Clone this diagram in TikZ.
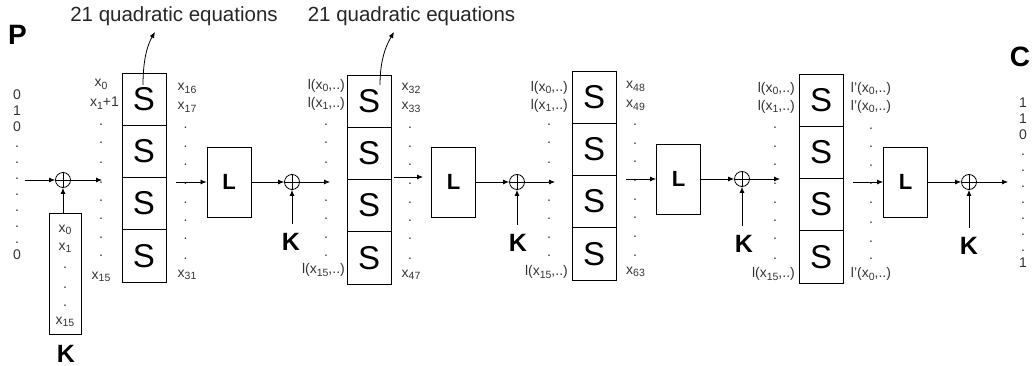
\documentclass[tikz,border=0pt]{standalone}
\usepackage{fontspec}
\setmainfont{Liberation Sans}
\usetikzlibrary{arrows.meta}
\newcommand\xsb[1]{x\raisebox{-2.5pt}{\fontsize{10.5}{10.5}\selectfont #1}}
\newcommand\scolumn[3]{\foreach \j in {0,...,3}{\node[sbox] (#1\j) at (#2,{#3+26.125+52.25*\j}) {S};}}
\newcommand\dotcol[3]{\foreach \yy [count=\n] in {#3}{\node[lab,anchor=base] (#1\n) at (#2,\yy) {.};}}
\begin{document}
\begin{tikzpicture}[x=1pt,y=-1pt,
  lab/.style={font=\fontsize{14}{14}\selectfont, text=black!80, inner sep=0pt},
  big/.style={font=\bfseries\fontsize{28}{28}\selectfont, inner sep=0pt},
  quad/.style={font=\fontsize{20.5}{20.5}\selectfont, text=black!85, inner sep=0pt},
  kbig/.style={font=\bfseries\fontsize{25}{25}\selectfont, inner sep=9pt},
  sbox/.style={draw, line width=0.9pt, minimum width=44pt, minimum height=52.25pt, inner sep=0pt, font=\fontsize{33}{33}\selectfont},
  lbox/.style={draw, line width=0.9pt, minimum width=44pt, minimum height=70pt, inner sep=0pt, font=\bfseries\fontsize{22}{22}\selectfont},
  kbox/.style={draw, line width=0.9pt, minimum width=32pt, minimum height=121pt, inner sep=0pt},
  xor/.style={draw, circle, minimum size=15pt, inner sep=0pt, line width=0.8pt,
    path picture={\draw[line width=0.8pt] (path picture bounding box.north) -- (path picture bounding box.south)
      (path picture bounding box.west) -- (path picture bounding box.east);}},
  arr/.style={-{Latex[length=6pt,width=5pt]}, line width=0.8pt}
]
\useasboundingbox (0,0) rectangle (1032,366);

% titles
\node[big, anchor=base] (P) at (17.5,45) {P};
\node[big, anchor=base] (C) at (1020,67) {C};
\node[quad, anchor=base] (q1) at (174,21.7) {21 quadratic equations};
\node[quad, anchor=base] (q2) at (411.5,21.7) {21 quadratic equations};

% plaintext and ciphertext columns
\foreach \t [count=\n from 0] in {0,1,0,.,.,.,.,.,.,.,0}
  \node[lab,anchor=base] (p\n) at (17,{99.5+16*\n}) {\t};
\foreach \t [count=\n from 0] in {1,1,0,.,.,.,.,.,.,.,1}
  \node[lab,anchor=base] (c\n) at (1023,{107.5+16*\n}) {\t};

% ---------- stage 1 ----------
\node[xor] (x1) at (63,180) {};
\node[kbox] (kb) at (65,273.5) {};
\node[lab,anchor=base] (kb0) at (65,232) {\xsb{0}};
\node[lab,anchor=base] (kb1) at (65,250) {\xsb{1}};
\dotcol{kbd}{65}{268,288,306}
\node[lab,anchor=base] (kb15) at (65,324) {\xsb{15}};
\node[kbig,anchor=base] (k1) at (66,362) {K};
\coordinate (in1) at (25,180);
\draw[arr] (in1) -- (x1.west);
\draw[arr] (x1.south |- kb.north) -- (x1.south);
\coordinate (t1) at (102,180);
\draw[arr] (x1.east) -- (t1);

\node[lab,anchor=base] (a0) at (101,87) {\xsb{0}};
\node[lab,anchor=base] (a1) at (104.5,107) {\xsb{1}+1};
\dotcol{ad}{101}{126,144,164,183,201,219,238,256}
\node[lab,anchor=base] (a15) at (101,279) {\xsb{15}};

\scolumn{sa}{144}{73}
\coordinate (q1s) at (143,85);
\coordinate (q1e) at (155,32);
\draw[arr] (q1s) .. controls (143,58) and (148,44) .. (q1e);

\node[lab,anchor=base] (b0) at (187,91) {\xsb{16}};
\node[lab,anchor=base] (b1) at (187,110) {\xsb{17}};
\dotcol{bd}{185.5}{129,148,166,184,203,221,239,259}
\node[lab,anchor=base] (b15) at (187,277) {\xsb{31}};

\coordinate (o1) at (176,182);
\node[lbox] (L1) at (229,182) {L};
\draw[arr] (o1) -- (L1.west);

% ---------- stage 2 ----------
\node[xor] (x2) at (292,182) {};
\draw[arr] (L1.east) -- (x2.west);
\node[kbig,anchor=base] (k2) at (291,250) {K};
\draw[arr] (x2.south |- k2.north) -- (x2.south);
\coordinate (t2) at (330,182);
\draw[arr] (x2.east) -- (t2);

\node[lab,anchor=base east] (cc0) at (345,89.5) {l(\xsb{0},..)};
\node[lab,anchor=base east] (cc1) at (345,107.5) {l(\xsb{1},..)};
\dotcol{cd}{326}{126,144,164,183,201,219,238,256}
\node[lab,anchor=base east] (cc15) at (345,273.5) {l(\xsb{15},..)};

\scolumn{sb}{369}{75}
\coordinate (q2s) at (380,85);
\coordinate (q2e) at (394,32);
\draw[arr] (q2s) .. controls (380,58) and (387,44) .. (q2e);

\node[lab,anchor=base] (d0) at (411,91) {\xsb{32}};
\node[lab,anchor=base] (d1) at (411,110) {\xsb{33}};
\dotcol{dd}{410}{129,148,166,184,203,221,239,259}
\node[lab,anchor=base] (d15) at (411,277) {\xsb{47}};

\coordinate (o2) at (394,177);
\coordinate (e2) at (423,177);
\draw[arr] (o2) -- (e2);
\node[lbox] (L2) at (453.5,182) {L};

% ---------- stage 3 ----------
\node[xor] (x3) at (517,182) {};
\draw[arr] (L2.east) -- (x3.west);
\node[kbig,anchor=base] (k3) at (518,251) {K};
\draw[arr] (x3.south |- k3.north) -- (x3.south);
\coordinate (t3) at (555,182);
\draw[arr] (x3.east) -- (t3);

\node[lab,anchor=base east] (e0) at (568,91.5) {l(\xsb{0},..)};
\node[lab,anchor=base east] (e1) at (568,109.5) {l(\xsb{1},..)};
\dotcol{ed}{549}{126,144,164,183,201,219,238,256}
\node[lab,anchor=base east] (e15) at (568,275.5) {l(\xsb{15},..)};

\scolumn{sc}{594}{71}

\node[lab,anchor=base] (f0) at (635.5,89) {\xsb{48}};
\node[lab,anchor=base] (f1) at (635.5,108) {\xsb{49}};
\dotcol{fd}{635}{126,145,163,182,200,218,237,256}
\node[lab,anchor=base] (f15) at (635.5,274) {\xsb{63}};

\coordinate (o3) at (626,179);
\node[lbox] (L3) at (678.5,179) {L};
\draw[arr] (o3) -- (L3.west);

% ---------- stage 4 ----------
\node[xor] (x4) at (742,179) {};
\draw[arr] (L3.east) -- (x4.west);
\node[kbig,anchor=base] (k4) at (744,252) {K};
\draw[arr] (x4.south |- k4.north) -- (x4.south);
\coordinate (t4) at (780,179);
\draw[arr] (x4.east) -- (t4);

\node[lab,anchor=base east] (g0) at (795,92.5) {l(\xsb{0},..)};
\node[lab,anchor=base east] (g1) at (795,110.5) {l(\xsb{1},..)};
\dotcol{gd}{775}{129,148,166,184,203,221,239,259}
\node[lab,anchor=base east] (g15) at (795,277.5) {l(\xsb{15},..)};

\scolumn{sd}{821}{74}

\node[lab,anchor=base] (h0) at (871,92.5) {l’(\xsb{0},..)};
\node[lab,anchor=base] (h1) at (871,110.5) {l’(\xsb{0},..)};
\dotcol{hd}{871}{130,148,167,185,203,223,242,259}
\node[lab,anchor=base] (h15) at (871,277.5) {l’(\xsb{0},..)};

\coordinate (o4) at (853,182);
\node[lbox] (L4) at (905.5,182) {L};
\draw[arr] (o4) -- (L4.west);

\node[xor] (x5) at (969,182) {};
\draw[arr] (L4.east) -- (x5.west);
\node[kbig,anchor=base] (k5) at (969,254) {K};
\draw[arr] (x5.south |- k5.north) -- (x5.south);
\coordinate (t5) at (1008,182);
\draw[arr] (x5.east) -- (t5);
\end{tikzpicture}
\end{document}
